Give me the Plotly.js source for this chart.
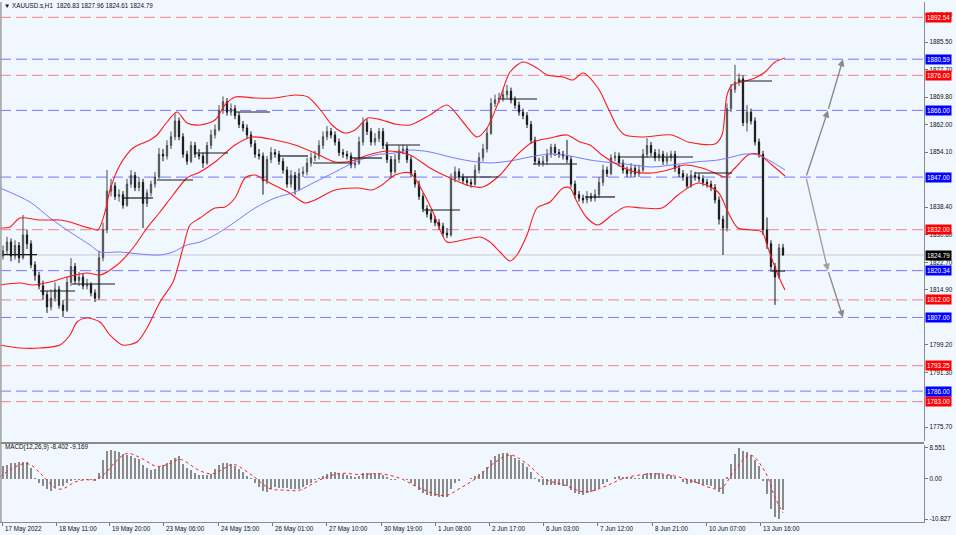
<!DOCTYPE html>
<html>
<head>
<meta charset="utf-8">
<script src="https://cdn.plot.ly/plotly-3.0.1.min.js"></script>
<style>html,body{margin:0;padding:0;background:#f0f7fe;}#chart{width:956px;height:535px;}</style>
</head>
<body>
<div id="chart"></div>
<script>
// ---------- DATA ----------
const symbolTitle = "XAUUSD.s,H1  1826.83 1827.96 1824.61 1824.79";
const macdTitle = "MACD(12,26,9) -8.402 -9.169";

const openP = [1824.5,1826.0,1828.5,1824.5,1827.5,1824.0,1830.5,1828.0,1822.0,1819.0,
1816.0,1813.5,1810.0,1812.5,1815.0,1810.5,1809.0,1817.0,1821.5,1817.5,
1818.5,1816.0,1816.5,1814.0,1812.5,1824.0,1832.0,1843.0,1844.5,1841.5,
1842.0,1839.0,1845.0,1847.5,1844.0,1845.5,1839.5,1842.5,1845.0,1847.0,
1853.5,1853.0,1856.0,1858.5,1863.0,1858.5,1853.5,1851.5,1856.0,1853.5,
1853.0,1851.0,1856.0,1859.0,1860.5,1866.0,1868.5,1865.5,1866.5,1864.5,
1862.0,1861.0,1859.0,1856.5,1853.5,1853.0,1846.0,1852.0,1854.0,1853.5,
1851.5,1849.0,1845.0,1847.5,1843.5,1848.0,1848.5,1851.0,1852.5,1853.0,
1856.0,1858.5,1860.0,1859.0,1857.0,1854.0,1853.5,1853.0,1850.5,1851.0,
1857.0,1862.5,1860.0,1857.0,1858.0,1860.0,1856.0,1852.0,1848.5,1852.0,
1854.5,1855.0,1852.0,1848.0,1845.0,1841.5,1838.0,1836.5,1835.0,1834.0,
1833.0,1831.0,1830.5,1846.5,1848.5,1847.0,1846.0,1845.5,1845.0,1849.0,
1852.5,1855.0,1859.5,1868.0,1869.0,1869.5,1870.5,1871.5,1869.0,1867.5,
1865.5,1864.5,1862.0,1857.5,1851.5,1851.0,1851.5,1853.5,1855.5,1854.0,
1853.5,1853.0,1852.0,1845.0,1842.0,1841.0,1840.5,1841.5,1841.0,1842.0,
1845.5,1849.0,1848.0,1852.5,1853.0,1851.0,1849.0,1848.0,1849.5,1848.0,
1849.0,1853.5,1856.0,1854.0,1852.5,1853.5,1851.5,1852.5,1853.5,1849.5,
1848.0,1847.0,1844.5,1847.5,1847.0,1846.5,1845.5,1845.0,1844.0,1840.5,
1835.0,1832.5,1866.5,1872.0,1874.0,1875.0,1862.5,1865.5,1863.0,1857.0,
1853.5,1832.0,1828.0,1821.5,1818.5,1826.83];
const highP = [1827.5,1830.0,1829.5,1829.0,1828.5,1836.2,1832.0,1829.0,1823.0,1820.0,
1817.5,1814.5,1815.0,1817.0,1816.0,1812.0,1818.5,1823.9,1822.5,1820.0,
1819.5,1818.0,1817.0,1815.0,1826.0,1834.0,1849.0,1846.5,1845.5,1843.5,
1843.0,1846.5,1849.0,1848.5,1847.0,1846.5,1843.5,1846.0,1848.5,1855.3,
1855.0,1857.5,1860.0,1865.3,1864.0,1859.5,1854.5,1857.2,1857.0,1855.0,
1854.0,1857.0,1860.5,1862.0,1867.5,1870.0,1869.5,1868.0,1867.5,1865.5,
1863.0,1862.0,1860.0,1857.5,1855.0,1854.0,1853.0,1855.5,1855.0,1854.5,
1852.5,1850.0,1849.0,1848.5,1849.5,1850.0,1852.5,1854.0,1854.5,1857.5,
1860.0,1861.5,1861.0,1860.0,1858.0,1855.0,1854.5,1854.0,1852.5,1858.5,
1864.0,1863.5,1861.0,1859.5,1861.0,1861.0,1857.0,1853.0,1853.5,1856.0,
1856.2,1856.0,1853.0,1849.0,1846.0,1842.5,1839.0,1837.5,1836.0,1835.0,
1834.0,1832.5,1848.0,1850.0,1849.5,1848.0,1847.0,1846.5,1850.5,1854.0,
1856.5,1861.0,1869.5,1870.5,1871.0,1872.0,1873.3,1872.5,1870.0,1868.5,
1866.5,1865.5,1863.0,1858.5,1852.5,1853.0,1855.0,1856.5,1856.5,1855.0,
1854.5,1857.6,1853.0,1846.0,1843.0,1842.0,1843.0,1842.5,1843.5,1847.0,
1850.5,1850.0,1853.5,1854.2,1854.0,1852.0,1850.0,1851.0,1850.5,1850.5,
1855.0,1858.1,1857.0,1855.0,1855.0,1854.5,1854.0,1854.5,1854.5,1850.5,
1849.0,1848.0,1849.0,1848.5,1848.0,1847.5,1846.5,1846.0,1845.0,1841.5,
1836.0,1868.0,1873.5,1879.0,1876.5,1876.0,1867.5,1866.5,1864.0,1858.0,
1854.5,1835.5,1829.0,1822.5,1828.0,1827.96];
const lowP = [1823.5,1825.0,1823.0,1823.5,1822.5,1823.5,1826.5,1821.0,1817.5,1815.0,
1812.0,1808.3,1809.0,1811.5,1809.5,1807.1,1808.5,1816.0,1816.5,1816.0,
1815.0,1815.0,1813.0,1811.4,1812.0,1823.0,1831.0,1841.5,1840.5,1840.0,
1838.0,1838.5,1844.0,1843.0,1843.0,1832.5,1838.5,1841.5,1844.0,1846.5,
1851.5,1852.0,1855.0,1857.5,1857.5,1852.5,1850.5,1851.0,1852.5,1852.0,
1849.6,1850.5,1855.0,1858.0,1860.0,1865.0,1864.5,1864.5,1863.5,1861.0,
1860.0,1858.0,1855.5,1852.5,1852.0,1842.0,1845.0,1851.0,1852.5,1850.5,
1848.0,1844.0,1844.0,1842.0,1843.0,1847.0,1847.5,1850.0,1851.5,1852.0,
1855.0,1857.5,1858.0,1856.0,1853.0,1852.5,1852.0,1849.5,1849.5,1850.5,
1856.0,1859.0,1856.0,1856.0,1857.0,1855.0,1851.0,1846.7,1848.0,1851.0,
1853.5,1851.0,1847.0,1844.0,1840.5,1837.0,1835.5,1834.0,1833.0,1832.0,
1830.0,1829.6,1830.0,1845.5,1846.0,1845.0,1844.5,1844.0,1844.5,1848.0,
1851.5,1854.0,1859.0,1867.0,1868.0,1868.5,1869.5,1868.0,1866.5,1864.5,
1863.5,1861.0,1856.5,1850.5,1850.0,1850.0,1850.5,1852.5,1853.0,1852.5,
1852.0,1851.0,1844.0,1841.0,1840.0,1839.5,1839.5,1840.0,1840.0,1841.0,
1844.5,1847.0,1847.5,1851.5,1850.0,1848.0,1847.0,1847.0,1847.0,1847.0,
1848.5,1852.5,1853.0,1851.5,1851.5,1850.5,1850.5,1851.5,1848.5,1847.0,
1846.0,1843.9,1844.0,1846.0,1845.5,1844.5,1844.0,1843.0,1839.5,1833.5,
1824.8,1831.5,1865.5,1871.0,1873.0,1861.5,1860.0,1862.0,1856.0,1852.5,
1830.5,1826.5,1820.0,1810.6,1818.0,1824.61];
const closeP = [1826.0,1828.5,1824.5,1827.5,1824.0,1830.5,1828.0,1822.0,1819.0,1816.0,
1813.5,1810.0,1812.5,1815.0,1810.5,1809.0,1817.0,1821.5,1817.5,1818.5,
1816.0,1816.5,1814.0,1812.5,1824.0,1832.0,1843.0,1844.5,1841.5,1842.0,
1839.0,1845.0,1847.5,1844.0,1845.5,1839.5,1842.5,1845.0,1847.0,1853.5,
1853.0,1856.0,1858.5,1863.0,1858.5,1853.5,1851.5,1856.0,1853.5,1853.0,
1851.0,1856.0,1859.0,1860.5,1866.0,1868.5,1865.5,1866.5,1864.5,1862.0,
1861.0,1859.0,1856.5,1853.5,1853.0,1846.0,1852.0,1854.0,1853.5,1851.5,
1849.0,1845.0,1847.5,1843.5,1848.0,1848.5,1851.0,1852.5,1853.0,1856.0,
1858.5,1860.0,1859.0,1857.0,1854.0,1853.5,1853.0,1850.5,1851.0,1857.0,
1862.5,1860.0,1857.0,1858.0,1860.0,1856.0,1852.0,1848.5,1852.0,1854.5,
1855.0,1852.0,1848.0,1845.0,1841.5,1838.0,1836.5,1835.0,1834.0,1833.0,
1831.0,1830.5,1846.5,1848.5,1847.0,1846.0,1845.5,1845.0,1849.0,1852.5,
1855.0,1859.5,1868.0,1869.0,1869.5,1870.5,1871.5,1869.0,1867.5,1865.5,
1864.5,1862.0,1857.5,1851.5,1851.0,1851.5,1853.5,1855.5,1854.0,1853.5,
1853.0,1852.0,1845.0,1842.0,1841.0,1840.5,1841.5,1841.0,1842.0,1845.5,
1849.0,1848.0,1852.5,1853.0,1851.0,1849.0,1848.0,1849.5,1848.0,1849.0,
1853.5,1856.0,1854.0,1852.5,1853.5,1851.5,1852.5,1853.5,1849.5,1848.0,
1847.0,1844.5,1847.5,1847.0,1846.5,1845.5,1845.0,1844.0,1840.5,1835.0,
1832.5,1866.5,1872.0,1874.0,1875.0,1862.5,1865.5,1863.0,1857.0,1853.5,
1832.0,1828.0,1821.5,1818.5,1826.83,1824.79];

const macdMain = [3.5,3.8,4.2,4.4,4.5,4.6,4.7,3.0,0.2,-1.2,
-2.0,-2.8,-3.2,-2.4,-2.0,-1.8,-1.2,-0.6,-0.4,-0.3,
-0.3,-0.3,-0.3,-0.5,1.5,5.0,7.6,7.9,7.6,7.2,
6.8,6.6,6.2,5.8,5.3,3.8,2.9,2.5,2.6,3.2,
3.8,4.3,5.0,5.8,6.2,4.0,3.0,2.4,1.6,1.2,
1.0,1.1,1.4,2.6,3.8,4.2,4.2,4.0,3.5,2.6,
1.8,0.9,0.3,-1.0,-2.2,-3.2,-3.6,-2.6,-2.2,-2.3,
-2.5,-2.4,-2.6,-2.8,-2.6,-2.2,-1.7,-1.0,-0.4,0.4,
0.9,1.4,1.8,1.9,1.7,1.4,1.1,0.7,0.6,0.9,
1.6,1.7,1.5,1.4,1.5,1.1,0.5,-0.3,-0.3,-0.1,
0.0,-0.4,-1.2,-2.0,-2.9,-3.7,-4.2,-4.5,-4.7,-4.8,
-4.9,-4.8,-2.6,-1.2,-0.5,-0.1,0.1,0.2,0.7,1.4,
2.2,3.2,5.0,6.2,6.8,7.0,7.0,6.5,5.8,5.0,
4.2,3.2,2.0,0.4,-0.8,-1.5,-1.7,-1.6,-1.6,-1.7,
-1.8,-2.0,-3.0,-3.8,-4.1,-4.2,-3.9,-3.6,-3.2,-2.4,
-1.3,-0.8,0.1,0.6,0.7,0.6,0.4,0.5,0.4,0.4,
1.0,1.6,1.7,1.5,1.5,1.2,1.1,1.1,0.5,-0.1,
-0.7,-1.3,-1.1,-1.2,-1.3,-1.5,-1.7,-1.9,-2.5,-3.4,
-4.0,0.5,4.0,6.8,8.5,7.6,7.2,6.4,5.0,3.6,
-0.5,-4.0,-8.0,-10.2,-10.827,-8.402];

const signalBar = [-0.75,1.75,5.5,7.25,9.25,11.75,13.5,15.5,18,20.5,23,25.5,28,31,34.25,38.5,41.75,44.25,49.25,52.5,55.5,57.5,62.5,66.75,70.5,74.25,79.25,84.25,89.25,94.25,99.25,104.25,110.5,114.25,118,123,126.75,130.5,135.5,140.5,145.5,150.5,155.5,163,168,173,179.25,183,186.75,190.5,193,195];
const signalVal = [0.6,2.5,4.2,3.6,1.6,-1.2,-2.7,-2.4,-0.8,-0.2,-0.2,1.5,4.5,6.9,5.8,3.4,4.2,5.3,2.2,1.4,3.0,4.0,0.8,-2.6,-3.0,-3.0,-0.2,1.5,1.2,1.4,0.2,-2.5,-4.5,-2.5,0.0,4.5,6.5,4.5,0.0,-1.7,-3.5,-2.0,0.3,1.4,0.8,-0.8,-2.6,2.5,6.5,2.0,-5.0,-9.169];

const bbUpperBar = [-0.75,1.75,4.25,9.25,14.25,16.75,19.75,22.5,23.75,25.5,26.75,29.25,32.5,36.75,38.5,41,43.5,46,49.25,53,55.5,58,63,68,73,76.25,79.75,82.25,85.5,88,91.25,94.75,98,101.75,106.75,111,115,118.5,121,124.25,126.75,130,133.5,136,140,142.5,145,148.75,151.25,153.75,155.5,159.75,167.25,171.25,178,179.75,181,182.25,184.75,188,190.5,193,195.5];
const bbUpperVal = [1832.49,1832.78,1835.34,1834.77,1834.77,1834.20,1833.06,1832.21,1831.92,1837.05,1843.32,1850.45,1855.29,1857.57,1859.00,1862.70,1865.55,1862.42,1861.85,1863.27,1867.55,1869.83,1869.54,1869.54,1870.40,1869.83,1865.55,1861.85,1859.57,1860.42,1863.84,1863.27,1862.13,1861.85,1864.70,1867.55,1862.70,1858.43,1860.99,1869.54,1876.95,1879.80,1878.09,1876.10,1875.53,1874.67,1876.67,1872.39,1866.69,1860.99,1859.00,1858.43,1859.00,1857.00,1856.43,1859.00,1870.40,1873.25,1874.10,1875.24,1876.95,1879.80,1880.94];

const bbMidBar = [-0.75,4.25,7.5,11.75,16,21,24.25,28.5,32.5,36,39.25,42.5,46,49.25,53,58,62.25,68,73,78,83,87.25,91.25,96.25,101.75,106.75,111.75,116.75,120,124.25,128.5,132.5,136.75,141,144.25,146.75,149.75,153.75,158,162.25,166.25,170.5,174.75,178,180.5,183,186.25,188.75,192.25,195.5];
const bbMidVal = [1816.25,1816.81,1816.25,1817.10,1818.52,1819.66,1819.09,1821.94,1826.79,1832.49,1837.05,1841.90,1846.74,1848.45,1851.30,1856.15,1858.43,1857.57,1856.15,1853.87,1851.30,1851.59,1853.30,1854.44,1853.30,1849.59,1846.74,1844.46,1844.18,1847.60,1853.30,1857.00,1858.14,1859.00,1857.00,1856.15,1853.30,1850.45,1848.45,1848.17,1849.02,1850.45,1849.59,1848.17,1847.03,1849.59,1853.30,1853.58,1850.45,1847.31];

const bbLowerBar = [-0.75,4.25,9.25,14.25,16.75,18.5,21,24.25,26.75,30,33.5,36,39.25,42.5,45,46.75,49.25,53,55.5,58,60.5,63,66.25,71.25,75.5,78,83,88.75,92.25,94.75,98,101.75,105,107.5,111,115,119.25,121.75,124.25,126.75,128.5,131,133.5,136.75,140,141.75,143.5,146,148.75,152.25,155.5,159.75,164.75,168.75,173.75,178.75,181.25,183.75,187.25,189.75,191.25,193.75,195.5];
const bbLowerVal = [1799.15,1798.29,1798.29,1799.15,1801.99,1805.70,1806.84,1805.70,1801.99,1799.15,1799.99,1803.99,1811.40,1817.10,1826.79,1833.35,1835.34,1838.19,1838.48,1841.04,1846.74,1847.60,1845.60,1842.75,1839.62,1840.47,1843.32,1843.89,1843.32,1844.75,1847.60,1848.17,1842.75,1837.05,1828.50,1829.07,1829.93,1828.50,1825.65,1823.08,1824.79,1830.50,1838.19,1839.90,1843.89,1843.89,1839.90,1835.34,1833.35,1836.20,1838.48,1838.19,1838.19,1841.90,1845.32,1842.75,1837.05,1832.49,1831.92,1831.35,1826.79,1819.09,1814.82];

const maBar = [-0.75,6.75,11.75,16.75,21.75,24.25,29.25,34.25,39.25,42.5,46,49.25,53,58,63,68,73,78,83,88,93,98,101.75,106.75,111.75,116.75,121.75,126.75,131.75,136.75,141.75,146.75,150.5,155.5,162.25,167.25,173,178.75,182.25,185.5,188.75,192.25,195.5];
const maVal = [1843.89,1839.90,1835.34,1831.35,1827.65,1825.65,1825.65,1825.08,1824.79,1825.65,1827.65,1828.50,1830.50,1834.20,1838.19,1841.04,1842.75,1845.60,1848.45,1851.30,1853.30,1853.87,1854.72,1854.15,1852.73,1851.59,1851.02,1851.59,1852.73,1853.58,1853.01,1851.87,1851.30,1850.73,1849.88,1850.45,1851.30,1851.87,1852.73,1853.58,1853.30,1851.30,1849.02];

// short black horizontal levels (start bar, end bar, price)
const segStart = [0,9.25,17.25,29.75,38.5,48,58,68.75,77.5,87.25,95.5,105,114.25,124.25,132.5,145.5,153.75,173,183.75,192.25];
const segEnd   = [8.5,18,28,37.5,47.5,56.25,66.75,76.25,87.25,94.75,104.25,114.25,123.75,133.5,143.5,153,172.5,182.25,192.25,195.5];
const segPrice = [1824.9,1814.54,1816.53,1841.04,1846.17,1853.87,1865.55,1853.01,1851.02,1852.44,1856.15,1837.62,1847.03,1869.26,1850.73,1841.33,1852.73,1848.17,1874.38,1820.24];

// horizontal dashed levels
const redLevels  = [1892.54,1876.00,1832.00,1812.00,1793.25,1783.00];
const blueLevels = [1880.59,1866.00,1847.00,1820.34,1807.00,1786.00];
const lastPrice = 1824.79;

// projection arrows
const arrowBar = [200.75,206.25,210];
const arrowUp = [1847.00,1866.00,1880.59];
const arrowDown = [1847.00,1820.34,1807.00];

// axes labels (ticks fully hidden behind level tags are left out)
const priceTicks = [1893.30,1885.50,1877.70,1869.80,1862.00,1854.10,1838.40,1830.60,1822.70,1814.90,1799.20,1791.30,1775.70];
const macdTicks = [8.551,0,-10.827];
const macdTickText = ["8.551","0.00","-10.827"];
const dateLabels = ["17 May 2022","18 May 11:00","19 May 20:00","23 May 06:00","24 May 15:00","26 May 01:00","27 May 10:00","30 May 19:00","1 Jun 08:00","2 Jun 17:00","6 Jun 03:00","7 Jun 12:00","8 Jun 21:00","10 Jun 07:00","13 Jun 16:00"];
const dateBars = [-0.25,13.25,26.5,40,53.75,67.25,80.75,94.5,108,121.5,135,148.5,162.25,175.75,189.25];

// ---------- CHART ----------
const FONT = "Liberation Sans, Arial, sans-serif";
const FS = 6.3;
const bg = "#f0f7fe";
const barIdx = closeP.map((_, i) => i);

const traces = [];
traces.push({
  type: "candlestick", x: barIdx, open: openP, high: highP, low: lowP, close: closeP,
  xaxis: "x", yaxis: "y",
  increasing: {line: {color: "#4a4a4a", width: 1}, fillcolor: "#b8b8b8"},
  decreasing: {line: {color: "#141414", width: 1}, fillcolor: "#2a2a2a"},
  whiskerwidth: 0, hoverinfo: "skip", showlegend: false
});
traces.push({type: "scatter", mode: "lines", x: maBar, y: maVal, line: {color: "#7a7aff", width: 1, shape: "spline", smoothing: 0.8}, hoverinfo: "skip", showlegend: false});
[[bbUpperBar, bbUpperVal], [bbMidBar, bbMidVal], [bbLowerBar, bbLowerVal]].forEach(([bx, by]) => {
  traces.push({type: "scatter", mode: "lines", x: bx, y: by, line: {color: "#ff1a1a", width: 1.1, shape: "spline", smoothing: 0.8}, hoverinfo: "skip", showlegend: false});
});
const segX = [], segY = [];
segStart.forEach((s, k) => { segX.push(s, segEnd[k], null); segY.push(segPrice[k], segPrice[k], null); });
traces.push({type: "scatter", mode: "lines", x: segX, y: segY, line: {color: "#1a1a1a", width: 1.2}, hoverinfo: "skip", showlegend: false});
traces.push({type: "bar", x: barIdx, y: macdMain, xaxis: "x", yaxis: "y2", width: 0.55, marker: {color: "#8a8a8a", line: {width: 0}}, hoverinfo: "skip", showlegend: false});
traces.push({type: "scatter", mode: "lines", x: signalBar, y: signalVal, xaxis: "x", yaxis: "y2", line: {color: "#ff2020", width: 1, dash: "dot", shape: "spline"}, hoverinfo: "skip", showlegend: false});

const shapes = [];
redLevels.forEach(v => shapes.push({type: "line", xref: "paper", yref: "y", x0: 0, x1: 1, y0: v, y1: v, layer: "below", line: {color: "rgba(240,90,90,0.75)", width: 1, dash: "11px,5px"}}));
blueLevels.forEach(v => shapes.push({type: "line", xref: "paper", yref: "y", x0: 0, x1: 1, y0: v, y1: v, layer: "below", line: {color: "rgba(80,80,255,0.75)", width: 1, dash: "11px,5px"}}));
shapes.push({type: "line", xref: "paper", yref: "y", x0: 0, x1: 1, y0: lastPrice, y1: lastPrice, layer: "below", line: {color: "#dbe1e8", width: 2}});
// frame lines
shapes.push({type: "line", xref: "paper", yref: "paper", x0: 0, x1: 1.0, y0: 0.1519, y1: 0.1519, line: {color: "#8a8a8a", width: 2}});
shapes.push({type: "line", xref: "paper", yref: "paper", x0: 0.001, x1: 0.001, y0: 0, y1: 1, line: {color: "#a0a0a0", width: 1.5}});

const annotations = [];
annotations.push({xref: "paper", yref: "paper", x: 0, xshift: 2, y: 0.9925, xanchor: "left", yanchor: "middle", showarrow: false, text: "▼ " + symbolTitle, font: {family: FONT, size: FS, color: "#111"}});
annotations.push({xref: "paper", yref: "paper", x: 0, xshift: 3, y: 0.1442, xanchor: "left", yanchor: "middle", showarrow: false, text: macdTitle, font: {family: FONT, size: FS, color: "#111"}});
dateLabels.forEach((t, k) => annotations.push({xref: "x", yref: "paper", x: dateBars[k], y: 0, yshift: -1, xshift: 1, xanchor: "left", yanchor: "top", showarrow: false, text: t, font: {family: FONT, size: FS, color: "#111"}}));
function priceTag(v, col) {
  return {xref: "paper", yref: "y", x: 1, xshift: 1, y: v, xanchor: "left", yanchor: "middle", showarrow: false, text: v.toFixed(2), bgcolor: col, borderpad: 1, font: {family: FONT, size: FS, color: "#ffffff"}};
}
redLevels.forEach(v => annotations.push(priceTag(v, "#ff0000")));
blueLevels.forEach(v => annotations.push(priceTag(v, "#0000ff")));
annotations.push(priceTag(lastPrice, "#000000"));
// projection arrows
function arrow(x0, y0, x1, y1, op) {
  return {xref: "x", yref: "y", axref: "x", ayref: "y", x: x1, y: y1, ax: x0, ay: y0, showarrow: true, arrowhead: 2, arrowsize: 1, arrowwidth: 1.4, arrowcolor: op, text: ""};
}
annotations.push(arrow(arrowBar[0], arrowUp[0], arrowBar[1], arrowUp[1], "#8a8a8a"));
annotations.push(arrow(arrowBar[1], arrowUp[1], arrowBar[2], arrowUp[2], "#8a8a8a"));
annotations.push(arrow(arrowBar[0], arrowDown[0], arrowBar[1], arrowDown[1], "#a0a0a0"));
annotations.push(arrow(arrowBar[1], arrowDown[1], arrowBar[2], arrowDown[2], "#8a8a8a"));

const layout = {
  width: 956, height: 535,
  margin: {l: 0, r: 32, t: 2, b: 13},
  paper_bgcolor: bg, plot_bgcolor: bg,
  showlegend: false, dragmode: false, bargap: 0, boxgap: 0.55,
  xaxis: {
    anchor: "y2", range: [-0.75, 230.25], showgrid: false, zeroline: false,
    rangeslider: {visible: false},
    tickvals: dateBars, ticktext: dateLabels.map(() => ""), ticks: "outside", ticklen: 3, tickcolor: "#777",
    showline: true, linecolor: "#8c8c8c", linewidth: 1
  },
  yaxis: {
    domain: [0.1558, 1], range: [1771.79, 1896.9], side: "right", anchor: "x",
    showgrid: false, zeroline: false, showline: true, linecolor: "#8c8c8c", linewidth: 1.2,
    tickvals: priceTicks, ticktext: priceTicks.map(v => v.toFixed(2)),
    ticks: "outside", ticklen: 3, tickcolor: "#777",
    tickfont: {family: FONT, size: FS, color: "#111"}
  },
  yaxis2: {
    domain: [0, 0.1481], range: [-11.62, 9.19], side: "right", anchor: "x",
    showgrid: false, zeroline: false, showline: true, linecolor: "#8c8c8c", linewidth: 1.2,
    tickvals: macdTicks, ticktext: macdTickText,
    ticks: "outside", ticklen: 3, tickcolor: "#777",
    tickfont: {family: FONT, size: FS, color: "#111"}
  },
  shapes: shapes, annotations: annotations
};
Plotly.newPlot("chart", traces, layout, {staticPlot: true, displayModeBar: false});
</script>
</body>
</html>
